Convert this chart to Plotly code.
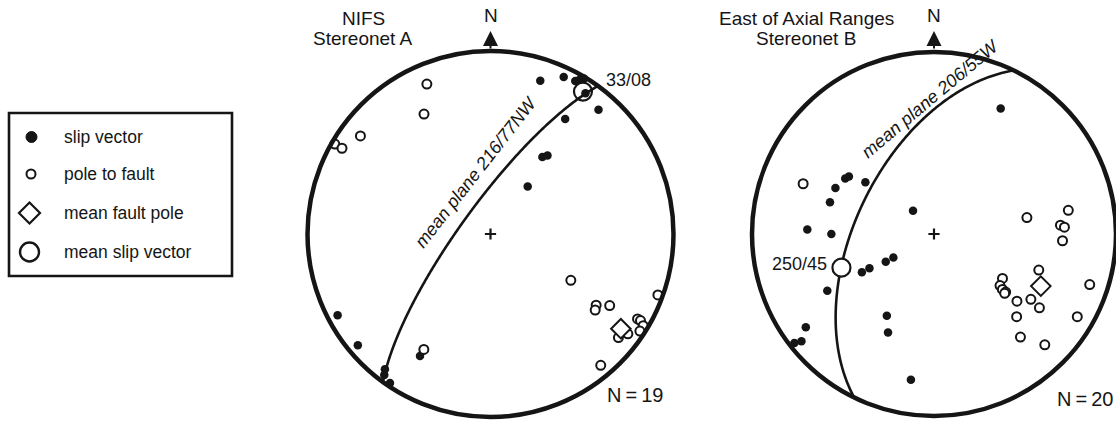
import numpy as np
import plotly.graph_objects as go

# ---------------- data: trend / plunge in degrees ----------------
# Stereonet A - NIFS
a_slip_trend = [18, 25, 29, 30, 31, 34, 41, 33, 34, 36, 38, 242, 230, 210, 218, 217, 214]
a_slip_plunge = [13, 6, 5, 3, 1, 8, 11, 26, 48, 46, 63, 6, 6, 24, 7, 4, 2]
a_pole_trend = [337, 331, 307, 300, 300, 210, 120, 124, 126, 121, 110, 120, 120, 121, 123, 126, 126, 129, 140]
a_pole_plunge = [12, 26, 12, 2, 7, 28, 48, 31, 30, 25, 3, 8, 6, 3, 3, 11, 8, 11, 7]
a_mean_plane = (216, 77)      # strike / dip, right-hand rule
a_mean_pole = (126, 13)
a_mean_slip = (33, 8)
a_n = 19

# Stereonet B - East of Axial Ranges
b_slip_trend = [295, 287, 302, 304, 307, 318, 272, 270, 242, 242, 240, 240, 242, 210, 205, 234, 232, 231, 189, 28]
b_slip_plunge = [40, 40, 42, 43, 51, 76, 31, 43, 53, 57, 65, 69, 34, 47, 40, 14, 3, 7, 20, 23]
b_pole_trend = [291, 80, 80, 86, 87, 93, 109, 123, 128, 129, 129, 130, 129, 124, 125, 135, 108, 120, 140, 135]
b_pole_plunge = [24, 47, 26, 31, 29, 30, 39, 53, 52, 50, 48, 48, 41, 36, 30, 36, 11, 10, 27, 15]
b_mean_plane = (206, 55)
b_mean_pole = (116, 35)
b_mean_slip = (250, 45)
b_n = 20

legend_labels = ["slip vector", "pole to fault", "mean fault pole", "mean slip vector"]

INK = "#151515"
FONT = "Liberation Sans, Arial, Helvetica, sans-serif"
W, H = 1116, 424


def px(x):
    return x / W


def py(y):
    return 1 - y / H


def schmidt_r(plunge):
    """Equal-area (lower hemisphere) radius, 1 at the primitive circle."""
    p = np.radians(np.asarray(plunge, dtype=float))
    return np.sqrt(2) * np.sin((np.pi / 2 - p) / 2)


def great_circle(strike, dip, n=241):
    s = np.radians(strike)
    dd = np.radians(strike + 90)
    d = np.radians(dip)
    a = np.linspace(0, np.pi, n)
    sv = np.array([np.sin(s), np.cos(s), 0.0])
    dv = np.array([np.sin(dd) * np.cos(d), np.cos(dd) * np.cos(d), -np.sin(d)])
    L = np.outer(np.cos(a), sv) + np.outer(np.sin(a), dv)
    trend = np.degrees(np.arctan2(L[:, 0], L[:, 1])) % 360
    plunge = np.degrees(np.arcsin(np.clip(-L[:, 2], -1, 1)))
    return trend, plunge


fig = go.Figure()


def add_net(sub, slip_t, slip_p, pole_t, pole_p, plane, mpole, mslip, slip_fill):
    gt, gp = great_circle(*plane)
    fig.add_trace(go.Scatterpolar(r=schmidt_r(gp), theta=gt, mode="lines",
                                  line=dict(color=INK, width=2.6), subplot=sub,
                                  showlegend=False, hoverinfo="skip", cliponaxis=False))
    fig.add_trace(go.Scatterpolar(r=[0], theta=[0], mode="markers", subplot=sub,
                                  marker=dict(symbol="cross-thin", size=8,
                                              line=dict(color=INK, width=2.2)),
                                  showlegend=False, hoverinfo="skip"))
    fig.add_trace(go.Scatterpolar(r=schmidt_r(slip_p), theta=slip_t, mode="markers",
                                  subplot=sub, name=legend_labels[0], cliponaxis=False,
                                  marker=dict(symbol="circle", size=8.5, color=INK),
                                  showlegend=False))
    fig.add_trace(go.Scatterpolar(r=schmidt_r(pole_p), theta=pole_t, mode="markers",
                                  subplot=sub, name=legend_labels[1], cliponaxis=False,
                                  marker=dict(symbol="circle", size=9, color="white",
                                              line=dict(color=INK, width=2)),
                                  showlegend=False))
    fig.add_trace(go.Scatterpolar(r=schmidt_r([mpole[1]]), theta=[mpole[0]], mode="markers",
                                  subplot=sub, name=legend_labels[2], cliponaxis=False,
                                  marker=dict(symbol="diamond", size=15, color="white",
                                              line=dict(color=INK, width=2)),
                                  showlegend=False))
    fig.add_trace(go.Scatterpolar(r=schmidt_r([mslip[1]]), theta=[mslip[0]], mode="markers",
                                  subplot=sub, name=legend_labels[3], cliponaxis=False,
                                  marker=dict(symbol="circle" if slip_fill else "circle-open",
                                              size=18, color="white" if slip_fill else INK,
                                              line=dict(color=INK, width=2.2)),
                                  showlegend=False))


add_net("polar", a_slip_trend, a_slip_plunge, a_pole_trend, a_pole_plunge,
        a_mean_plane, a_mean_pole, a_mean_slip, False)
add_net("polar2", b_slip_trend, b_slip_plunge, b_pole_trend, b_pole_plunge,
        b_mean_plane, b_mean_pole, b_mean_slip, True)


def polar_layout(x0, x1, y0, y1):
    return dict(
        domain=dict(x=[px(x0), px(x1)], y=[py(y1), py(y0)]),
        bgcolor="white",
        radialaxis=dict(visible=False, range=[0, 1]),
        angularaxis=dict(rotation=90, direction="clockwise", showgrid=False,
                         showticklabels=False, ticks="", showline=True,
                         linecolor=INK, linewidth=4.5),
    )


fig.update_layout(
    width=W, height=H, margin=dict(l=0, r=0, t=0, b=0),
    paper_bgcolor="white", plot_bgcolor="white", showlegend=False,
    polar=polar_layout(307.5, 673.5, 51, 417),
    polar2=polar_layout(752, 1116, 52, 416),
    font=dict(family=FONT, color=INK),
)

ann = []


def text(x, y, s, size=18, angle=0, xanchor="center"):
    ann.append(dict(x=px(x), y=py(y), xref="paper", yref="paper", text=s,
                    showarrow=False, textangle=angle, xanchor=xanchor, yanchor="middle",
                    font=dict(size=size, family=FONT, color=INK)))


# titles
text(363, 18, "NIFS", 19)
text(363, 38, "Stereonet A", 19)
text(806, 18, "East of Axial Ranges", 19)
text(806, 38, "Stereonet B", 19)

# north arrows
for cx in (490.5, 934):
    text(cx, 16, "N", 19)
    ann.append(dict(x=px(cx), y=py(31), xref="paper", yref="paper", text="",
                    showarrow=True, ax=0, ay=19, arrowhead=2, arrowsize=1.5,
                    arrowwidth=2, arrowcolor=INK))

# mean plane / mean slip vector labels
text(476, 172, "<i>mean plane %d/%dNW</i>" % a_mean_plane, 18, -52)
text(628, 80, "%02d/%02d" % a_mean_slip, 18)
text(930, 99, "<i>mean plane %d/%dW</i>" % b_mean_plane, 18, -40)
text(799, 264, "%d/%d" % b_mean_slip, 18)

# counts
text(635, 395, "N\u2009=\u2009%d" % a_n, 20)
text(1085, 399, "N\u2009=\u2009%d" % b_n, 20)

# legend key
shapes = [dict(type="rect", xref="paper", yref="paper", x0=px(9), x1=px(232),
               y0=py(276), y1=py(113), line=dict(color=INK, width=2.6), fillcolor="white",
               layer="below")]
key_y = [137, 174, 213, 252]
shapes.append(dict(type="circle", xref="paper", yref="paper", xsizemode="pixel",
                   ysizemode="pixel", xanchor=px(31.5), yanchor=py(key_y[0]),
                   x0=-5.5, x1=5.5, y0=-5.5, y1=5.5, fillcolor=INK, line=dict(color=INK, width=1)))
shapes.append(dict(type="circle", xref="paper", yref="paper", xsizemode="pixel",
                   ysizemode="pixel", xanchor=px(31), yanchor=py(key_y[1]),
                   x0=-4.5, x1=4.5, y0=-4.5, y1=4.5, fillcolor="white", line=dict(color=INK, width=2)))
shapes.append(dict(type="path", xref="paper", yref="paper", xsizemode="pixel",
                   ysizemode="pixel", xanchor=px(29.5), yanchor=py(key_y[2]),
                   path="M 0,-10.5 L 10.5,0 L 0,10.5 L -10.5,0 Z", fillcolor="white",
                   line=dict(color=INK, width=2.2)))
shapes.append(dict(type="circle", xref="paper", yref="paper", xsizemode="pixel",
                   ysizemode="pixel", xanchor=px(29.5), yanchor=py(key_y[3]),
                   x0=-9.5, x1=9.5, y0=-9.5, y1=9.5, fillcolor="white", line=dict(color=INK, width=2.4)))
for lab, ky in zip(legend_labels, key_y):
    text(62, ky, lab, 17.5, xanchor="left")

fig.update_layout(annotations=ann, shapes=shapes)
fig.write_html("out.html")
